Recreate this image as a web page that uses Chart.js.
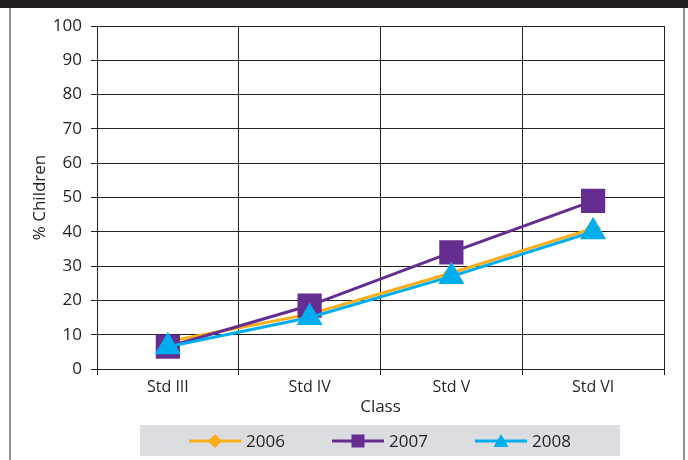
<!DOCTYPE html>
<html><head><meta charset="utf-8">
<script src="https://cdn.jsdelivr.net/npm/chart.js@4"></script>
<style>html,body{margin:0;padding:0;background:#fff}#w{width:688px;height:460px}</style>
</head><body><div id="w"><canvas id="c" width="688" height="460"></canvas></div>
<script>
const categories = ['Std III', 'Std IV', 'Std V', 'Std VI'];
const seriesNames = ['2006', '2007', '2008'];
const values2006 = [8, 16, 28, 41];
const values2007 = [6.5, 18.5, 34, 49];
const values2008 = [6.5, 15, 27, 40];
const yTicks = [0, 10, 20, 30, 40, 50, 60, 70, 80, 90, 100];

const colors = ['#fbad18', '#662d91', '#00aeef'];
const FONT = '"Open Sans", "Noto Sans", sans-serif';

const framePlugin = {
  id: 'frame',
  beforeDraw(chart) {
    const ctx = chart.ctx;
    ctx.save();
    ctx.fillStyle = '#fff';
    ctx.fillRect(0, 0, 688, 460);
    ctx.fillStyle = '#231f20';
    ctx.fillRect(0, 0, 688, 8);
    ctx.strokeStyle = '#6d6e71';
    ctx.lineWidth = 1.5;
    ctx.beginPath();
    ctx.moveTo(10, 8); ctx.lineTo(10, 460);
    ctx.moveTo(684, 8); ctx.lineTo(684, 460);
    ctx.stroke();
    ctx.restore();
  },
  afterDraw(chart) {
    const ctx = chart.ctx;
    ctx.save();
    ctx.fillStyle = '#dcdde0';
    ctx.fillRect(140, 425, 480, 31);
    const starts = [189, 332, 475];
    const cy = 441;
    chart.data.datasets.forEach((ds, i) => {
      const x0 = starts[i];
      ctx.strokeStyle = ds.borderColor;
      ctx.lineWidth = 3;
      ctx.beginPath(); ctx.moveTo(x0, cy); ctx.lineTo(x0 + 52, cy); ctx.stroke();
      const mx = x0 + 26;
      ctx.fillStyle = ds.borderColor;
      ctx.beginPath();
      if (i === 0) {
        ctx.moveTo(mx, cy - 7); ctx.lineTo(mx + 7, cy); ctx.lineTo(mx, cy + 7); ctx.lineTo(mx - 7, cy);
      } else if (i === 1) {
        ctx.rect(mx - 6.5, cy - 6.5, 13, 13);
      } else {
        ctx.moveTo(mx, cy - 7); ctx.lineTo(mx + 7.5, cy + 6); ctx.lineTo(mx - 7.5, cy + 6);
      }
      ctx.closePath(); ctx.fill();
      ctx.fillStyle = '#231f20';
      ctx.font = '17px ' + FONT;
      ctx.textBaseline = 'middle';
      ctx.textAlign = 'left';
      ctx.fillText(ds.label, x0 + 57, cy + 1);
    });
    ctx.restore();
  }
};

new Chart(document.getElementById('c'), {
  type: 'line',
  data: {
    labels: categories,
    datasets: [
      { label: seriesNames[0], data: values2006, borderColor: colors[0], backgroundColor: colors[0], order: 3,
        borderWidth: 3, pointStyle: 'rectRot', pointRadius: 6, pointHoverRadius: 6 },
      { label: seriesNames[1], data: values2007, borderColor: colors[1], backgroundColor: colors[1], order: 2,
        borderWidth: 3, pointStyle: 'rect', pointRadius: 15, pointHoverRadius: 15 },
      { label: seriesNames[2], data: values2008, borderColor: colors[2], backgroundColor: colors[2], order: 1,
        borderWidth: 3, pointStyle: 'triangle', pointRadius: 12, pointHoverRadius: 12 }
    ]
  },
  options: {
    responsive: false,
    animation: false,
    events: [],
    layout: { padding: { left: 30, right: 24, top: 26, bottom: 43 } },
    plugins: { legend: { display: false }, tooltip: { enabled: false } },
    scales: {
      x: {
        offset: true,
        afterFit(scale) { scale.height = 48; },
        grid: { color: '#231f20', lineWidth: 1, offset: true, tickLength: 6, drawTicks: true },
        border: { color: '#231f20', width: 1 },
        ticks: { color: '#231f20', font: { family: FONT, size: 16 }, padding: 3 },
        title: { display: true, text: 'Class', color: '#231f20', font: { family: FONT, size: 17 }, padding: { top: 1, bottom: 0 } }
      },
      y: {
        min: 0, max: 100,
        afterBuildTicks(scale) { scale.ticks = yTicks.map(v => ({ value: v })); },
        afterFit(scale) { scale.width = 67; },
        grid: { color: '#231f20', lineWidth: 1, tickLength: 6 },
        border: { color: '#231f20', width: 1 },
        ticks: { color: '#231f20', font: { family: FONT, size: 17 }, padding: 9 },
        title: { display: true, text: '% Children', color: '#231f20', font: { family: FONT, size: 17 }, padding: { top: 0, bottom: 0 } }
      }
    }
  },
  plugins: [framePlugin]
});
</script>
</body></html>
